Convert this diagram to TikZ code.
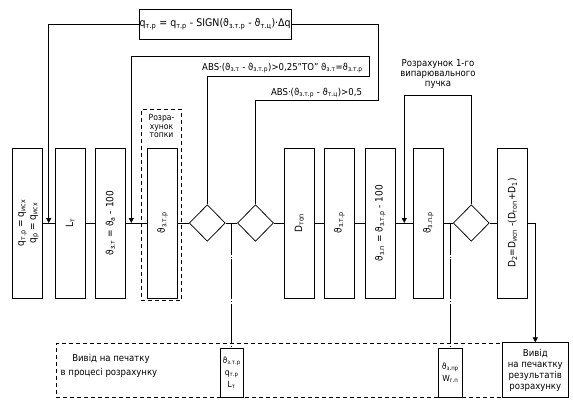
\documentclass[tikz,border=0pt]{standalone}
\usepackage{fontspec}
\setmainfont{DejaVu Sans Condensed}
\usetikzlibrary{arrows.meta,shapes.geometric}
\newcommand\lo[1]{\textsubscript{#1}}
\tikzset{
  every node/.style={font=\fontsize{9.5}{11}\selectfont, inner sep=1pt},
  tall/.style={draw, minimum width=30, minimum height=150, inner sep=0pt, font=\fontsize{10}{12}\selectfont},
  dia/.style={draw, diamond, minimum width=36, minimum height=36.6, inner sep=0pt},
  arr/.style={-{Triangle[width=5pt,length=5pt]}},
  dd/.style={dash pattern=on 4pt off 3pt},
  dashdot/.style={dash pattern=on 40pt off 1.8pt on 0.8pt off 1.8pt, dash phase=8pt},
  small/.style={draw, minimum width=23.5, minimum height=49, inner sep=0pt, align=center, font=\fontsize{8.5}{12}\selectfont},
  txt/.style={align=center}
}
\begin{document}
\begin{tikzpicture}[x=1pt,y=-1pt,line width=0.75pt]
\useasboundingbox (0,0) rectangle (573,400);
% dashed frames first
\node[draw, dd, minimum width=40.4, minimum height=191, anchor=north, inner sep=0pt] (tb) at (161.5,109) {};
\node[txt, font=\fontsize{8.5}{8.5}\selectfont] (tbt) at (161.5,126) {Розра-\\хунок\\топки};
\node[draw, dd, minimum width=446.3, minimum height=54.6, anchor=north west, inner sep=0pt] (db) at (56,342.7) {};
\node (dbt1) at (111,359) {Вивід на печатку};
\node (dbt2) at (109,373) {в процесі розрахунку};
% main boxes
\node[tall,fill=white] (b1) at (27.5,223) {\rotatebox{90}{\begin{tabular}{@{}c@{}}q\lo{т.р} = q\lo{исх}\\ q\lo{р} = q\lo{исх}\end{tabular}}};
\node[tall] (b2) at (70.2,223) {\rotatebox{90}{L\lo{т}}};
\node[tall] (b3) at (110.3,223) {\rotatebox{90}{ϑ\lo{з.т} = ϑ\lo{а} - 100}};
\node[tall,fill=white] (b4) at (162.5,223) {\rotatebox{90}{ϑ\lo{з.т.р}}};
\node[dia] (d1) at (207.3,223) {};
\node[dia] (d2) at (255.5,223) {};
\node[tall] (b5) at (299.3,223) {\rotatebox{90}{D\lo{топ}}};
\node[tall] (b6) at (339.3,223) {\rotatebox{90}{ϑ\lo{з.т.р}}};
\node[tall] (b7) at (380.3,223) {\rotatebox{90}{ϑ\lo{з.п} = ϑ\lo{з.т.р} - 100}};
\node[tall] (b8) at (428.3,223) {\rotatebox{90}{ϑ\lo{з.п.р}}};
\node[dia] (d3) at (471.3,223) {};
\node[tall] (b9) at (512.5,223) {\rotatebox{90}{D\lo{2}=D\lo{исп} -(D\lo{топ}+D\lo{1})}};
% top formula
\node[draw, minimum width=151.5, minimum height=30, inner sep=0pt, font=\fontsize{10.5}{12}\selectfont] (tf) at (215.2,24.3) {q\lo{т.р} = q\lo{т.р} - SIGN(ϑ\lo{з.т.р} - ϑ\lo{т.ц})·Δq};
% labels
\node[anchor=south] (lab1) at (316.5,99) {ABS·(ϑ\lo{з.т.р} - ϑ\lo{т.ц})>0,5};
\node (lab2) at (282.5,68) {ABS·(ϑ\lo{з.т} - ϑ\lo{з.т.р})>0,25"ТО" ϑ\lo{з.т}=ϑ\lo{з.т.р}};
\node[txt, font=\fontsize{9.5}{10}\selectfont] (lab3) at (438,74) {Розрахунок 1-го\\випарювального\\пучка};
% output boxes
\node[small] (sb1) at (231.65,372.8) {ϑ\lo{з.т.р}\\q\lo{т.р}\\L\lo{т}};
\node[small] (sb2) at (450.3,372.8) {ϑ\lo{з.пр}\\W\lo{г.п}};
\node[draw, fill=white, minimum width=66, minimum height=54.6, inner sep=0pt, txt, font=\fontsize{9.5}{11}\selectfont] (ob) at (535.3,370) {Вивід\\на печактку\\результатів\\розрахунку};
% coordinates
\coordinate (a1) at (48.7,223);
\coordinate (a2) at (131.3,223);
\coordinate (a3) at (404.3,223);
\coordinate (c1) at (378.3,100);
\coordinate (c2) at (369.3,76.7);
\coordinate (c3) at (369.3,56.7);
\coordinate (c4) at (404.3,95);
\coordinate (m1) at (231.65,223);
\coordinate (m2) at (450.3,223);
% main line
\foreach \p/\q in {b1/b2,b2/b3,b3/b4,b4/d1,d1/d2,d2/b5,b5/b6,b6/b7,b7/b8,b8/d3,d3/b9}
  \draw (\p) -- (\q);
\draw[arr] (b9.east) -| (ob.north);
% loops
\draw[arr] (tf.west) -| (a1);
\draw (tf.east) -| (c1) -| (d2.north);
\draw[arr] (d1.north) |- (c2) -- (c3) -| (a2);
\draw[arr] (d3.north) |- (c4) -- (a3);
% dash-dot
\draw[dashdot] (m1) -- (sb1.north);
\draw[dashdot] (m2) -- (sb2.north);
\end{tikzpicture}
\end{document}
